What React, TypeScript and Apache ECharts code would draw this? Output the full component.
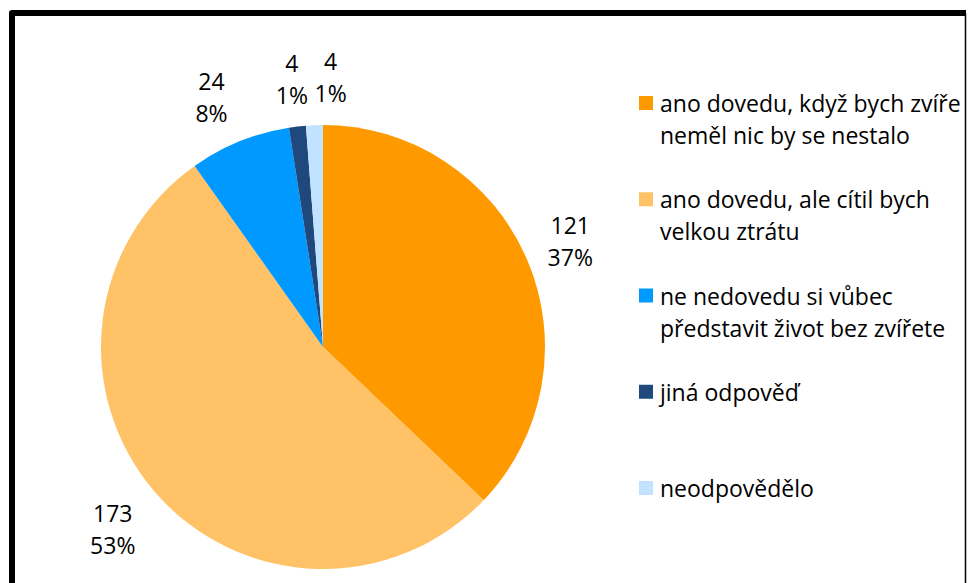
import React, { useEffect, useRef } from "react";
import * as echarts from "echarts";

const categories = [
  "ano dovedu, když bych zvíře\nneměl nic by se nestalo",
  "ano dovedu, ale cítil bych\nvelkou ztrátu",
  "ne nedovedu si vůbec\npředstavit život bez zvířete",
  "jiná odpověď",
  "neodpovědělo",
];
const values = [121, 173, 24, 4, 4];
const percentLabels = ["37%", "53%", "8%", "1%", "1%"];
const colors = ["#FF9900", "#FFC266", "#0099FF", "#1F497D", "#C2E3FF"];

const FONT = "'Open Sans', sans-serif";
const FS = 23;
const CX = 323;
const CY = 347;
const R = 222;

export default function App() {
  const ref = useRef<HTMLDivElement>(null);
  useEffect(() => {
    document.body.style.margin = "0";
    const chart = echarts.init(ref.current!, null, { renderer: "svg" });
    const total = values.reduce((a, b) => a + b, 0);
    const cum: number[] = [];
    let acc = 0;
    values.forEach((v) => {
      cum.push(acc + v / 2);
      acc += v;
    });
    const legendGraphics: any[] = [];
    categories.forEach((c, i) => {
      const yc = 103 + 96.25 * i;
      legendGraphics.push({
        type: "rect",
        shape: { x: 639, y: yc - 7, width: 14, height: 14 },
        style: { fill: colors[i] },
      });
      legendGraphics.push({
        type: "text",
        x: 660,
        y: yc - 16,
        style: {
          text: c,
          font: `${FS}px ${FONT}`,
          fill: "#000",
          lineHeight: 32,
          verticalAlign: "top",
          align: "left",
        },
      });
    });
    const extraDist = [47, 56, 48, 48, 48];
    const nudgeX = [0, 0, -10, 0, 18];
    chart.setOption({
      animation: false,
      backgroundColor: "#fff",
      graphic: [
        {
          type: "polyline",
          shape: { points: [[12, 600], [12, 13], [966, 13]] },
          style: { stroke: "#000", lineWidth: 6, fill: null, lineJoin: "round" },
        },
        {
          type: "line",
          shape: { x1: 965.5, y1: 13, x2: 965.5, y2: 600 },
          style: { stroke: "#000", lineWidth: 1.5 },
        },
        ...legendGraphics,
      ],
      series: [
        {
          type: "pie",
          center: [CX, CY],
          radius: R,
          startAngle: 90,
          clockwise: true,
          avoidLabelOverlap: false,
          data: values.map((v, i) => ({
            name: categories[i],
            value: v,
            itemStyle: { color: colors[i] },
          })),
          label: {
            show: true,
            position: "outside",
            formatter: (p: any) => `${p.value}\n${percentLabels[p.dataIndex]}`,
            fontFamily: FONT,
            fontSize: FS,
            lineHeight: 32,
            color: "#000",
          },
          labelLine: { show: false, length: 10, length2: 0 },
          labelLayout: (p: any) => {
            const i = p.dataIndex;
            const ang = Math.PI / 2 - (cum[i] / total) * Math.PI * 2;
            const d = R + extraDist[i];
            const x = CX + d * Math.cos(ang) + nudgeX[i];
            const y = CY - d * Math.sin(ang);
            return { x, y, align: "center", verticalAlign: "middle" };
          },
        },
      ],
    });
    return () => chart.dispose();
  }, []);
  return <div ref={ref} style={{ width: 970, height: 583 }} />;
}
